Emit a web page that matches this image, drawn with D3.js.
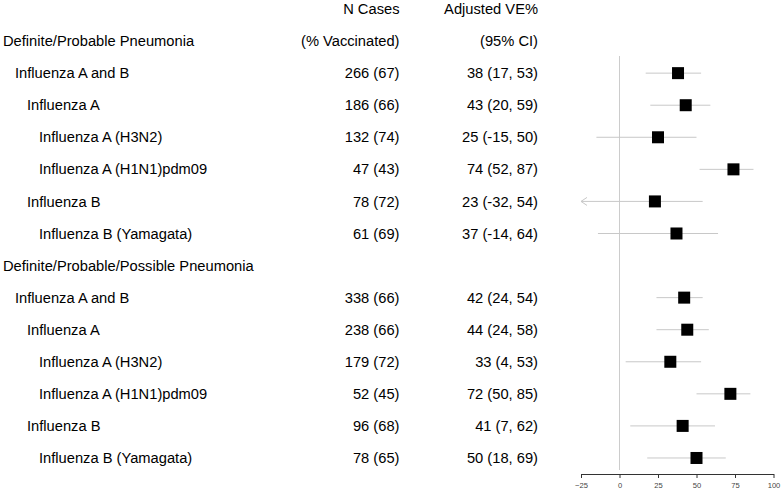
<!DOCTYPE html>
<html><head><meta charset="utf-8">
<script src="https://cdn.jsdelivr.net/npm/d3@7"></script>
<style>body{margin:0;background:#fff}svg{display:block}text{font-family:"Liberation Sans",Arial,sans-serif}</style>
</head><body><svg id="c" width="782" height="493"></svg>
<script>
const labels = ["Definite/Probable Pneumonia","Influenza A and B","Influenza A","Influenza A (H3N2)","Influenza A (H1N1)pdm09","Influenza B","Influenza B (Yamagata)",
"Definite/Probable/Possible Pneumonia","Influenza A and B","Influenza A","Influenza A (H3N2)","Influenza A (H1N1)pdm09","Influenza B","Influenza B (Yamagata)"];
const levels = [0,1,2,3,3,2,3, 0,1,2,3,3,2,3];
const nCases = [null,266,186,132,47,78,61, null,338,238,179,52,96,78];
const pctVacc = [null,67,66,74,43,72,69, null,66,66,72,45,68,65];
const ve = [null,38,43,25,74,23,37, null,42,44,33,72,41,50];
const lo = [null,17,20,-15,52,-32,-14, null,24,24,4,50,7,18];
const hi = [null,53,59,50,87,54,64, null,54,58,53,85,62,69];
const xTicks = [-25,0,25,50,75,100];

const svg = d3.select("#c");
const x = d3.scaleLinear().domain([-25,100]).range([581,773.5]);
const y = d3.scaleLinear().domain([0,15]).range([9, 9+32.07*15]);
const fs = 14.7;

// headers
svg.append("text").attr("x",399.5).attr("y",y(0)).attr("dy","0.35em").attr("text-anchor","end").attr("font-size",fs).text("N Cases");
svg.append("text").attr("x",538).attr("y",y(0)).attr("dy","0.35em").attr("text-anchor","end").attr("font-size",fs).text("Adjusted VE%");
svg.append("text").attr("x",399.5).attr("y",y(1)).attr("dy","0.35em").attr("text-anchor","end").attr("font-size",fs).text("(% Vaccinated)");
svg.append("text").attr("x",538).attr("y",y(1)).attr("dy","0.35em").attr("text-anchor","end").attr("font-size",fs).text("(95% CI)");

const rows = labels.map((l,i)=>({l,lev:levels[i],n:nCases[i],p:pctVacc[i],ve:ve[i],lo:lo[i],hi:hi[i],r:i+1}));
const indent = [3,15,27,39];
svg.selectAll("text.lab").data(rows).join("text").attr("class","lab")
  .attr("x",d=>indent[d.lev]).attr("y",d=>y(d.r)).attr("dy","0.35em").attr("font-size",fs).text(d=>d.l);
const dr = rows.filter(d=>d.n!==null);
svg.selectAll("text.n").data(dr).join("text").attr("class","n")
  .attr("x",399.5).attr("y",d=>y(d.r)).attr("dy","0.35em").attr("text-anchor","end").attr("font-size",fs).text(d=>`${d.n} (${d.p})`);
svg.selectAll("text.v").data(dr).join("text").attr("class","v")
  .attr("x",538).attr("y",d=>y(d.r)).attr("dy","0.35em").attr("text-anchor","end").attr("font-size",fs).text(d=>`${d.ve} (${d.lo}, ${d.hi})`);

// zero line
svg.append("line").attr("x1",x(0)).attr("x2",x(0)).attr("y1",56).attr("y2",470).attr("stroke","#cccccc").attr("stroke-width",1);

// CI lines
const dmin = x.domain()[0];
svg.selectAll("line.ci").data(dr).join("line").attr("class","ci")
  .attr("x1",d=>x(Math.max(d.lo,dmin))).attr("x2",d=>x(d.hi)).attr("y1",d=>y(d.r)).attr("y2",d=>y(d.r))
  .attr("stroke","#c8c8c8").attr("stroke-width",1);
// arrows for truncated
dr.filter(d=>d.lo<dmin).forEach(d=>{
  const ax = x(dmin), ay = y(d.r);
  svg.append("path").attr("d",`M${ax+6},${ay-4}L${ax},${ay}L${ax+6},${ay+4}`).attr("fill","none").attr("stroke","#c8c8c8").attr("stroke-width",1);
});
// squares
const s = 12;
svg.selectAll("rect.pt").data(dr).join("rect").attr("class","pt")
  .attr("x",d=>x(d.ve)-s/2).attr("y",d=>y(d.r)-s/2).attr("width",s).attr("height",s).attr("fill","#000");

// axis
const ax = svg.append("g").attr("transform","translate(0,474)")
  .call(d3.axisBottom(x).tickValues(xTicks).tickSize(4).tickSizeOuter(0).tickPadding(5));
ax.select(".domain").attr("stroke","#333");
ax.selectAll(".tick line").attr("stroke","#333");
ax.selectAll(".tick text").attr("font-size",7.6).attr("fill","#444").attr("font-family","Liberation Sans, Arial, sans-serif");
</script></body></html>
